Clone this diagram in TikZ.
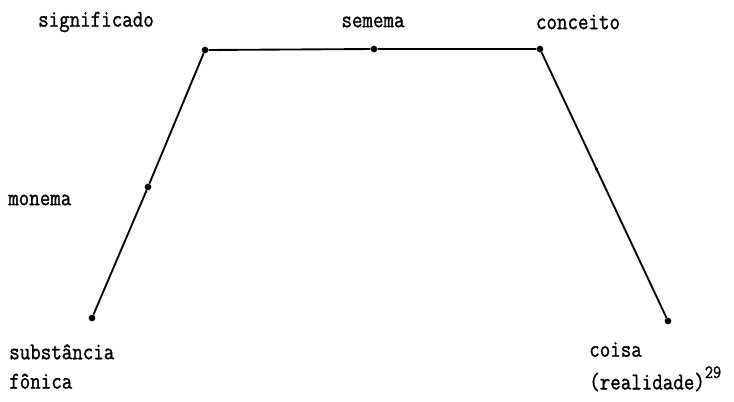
\documentclass[tikz,border=0pt]{standalone}
\usepackage{fontspec}
\setmonofont{Latin Modern Mono}[FakeStretch=0.85,FakeBold=1.2]
\usepackage{tikz}
\usetikzlibrary{positioning}

\begin{document}
\begin{tikzpicture}[x=0.75pt,y=-0.75pt,
    font=\ttfamily\fontsize{18}{22}\selectfont,
    ponto/.style={circle,fill=black,inner sep=0pt,minimum size=5pt},
    pontinho/.style={circle,fill=black,inner sep=0pt,minimum size=2.5pt},
    rotulo/.style={inner sep=0pt,align=left},
    traco/.style={line width=1.4pt}]
  \useasboundingbox (0,0) rectangle (734,401);
  % vertices of the trapezium
  \node[ponto] (sig) at (205,50) {};
  \node[ponto] (sem) at (374,49) {};
  \node[ponto] (con) at (540,49) {};
  \node[ponto] (mon) at (148,187) {};
  \node[ponto] (sub) at (92,318) {};
  \node[ponto] (coi) at (668,321) {};
  \draw[traco] (sig) -- (sem) -- (con);
  \draw[traco] (sig) -- (mon) -- (sub);
  \draw[traco] (con) -- (coi) coordinate[pos=0.44] (meio);
  \node[pontinho] (med) at (meio) {};
  % labels
  \node[rotulo] (lsig) at (96,22) {significado};
  \node[rotulo] (lsem) at (373,22) {semema};
  \node[rotulo] (lcon) at (578,22) {conceito};
  \node[rotulo,anchor=west] (lmon) at (8,200) {monema};
  \node[rotulo,anchor=north west] (lsub) at (9,344) {substância\\fônica};
  \node[rotulo,anchor=north west] (lcoi) at (589,342) {coisa\\[2.5pt](realidade)\raisebox{1.1ex}{\fontsize{14}{14}\selectfont 29}};
\end{tikzpicture}
\end{document}
